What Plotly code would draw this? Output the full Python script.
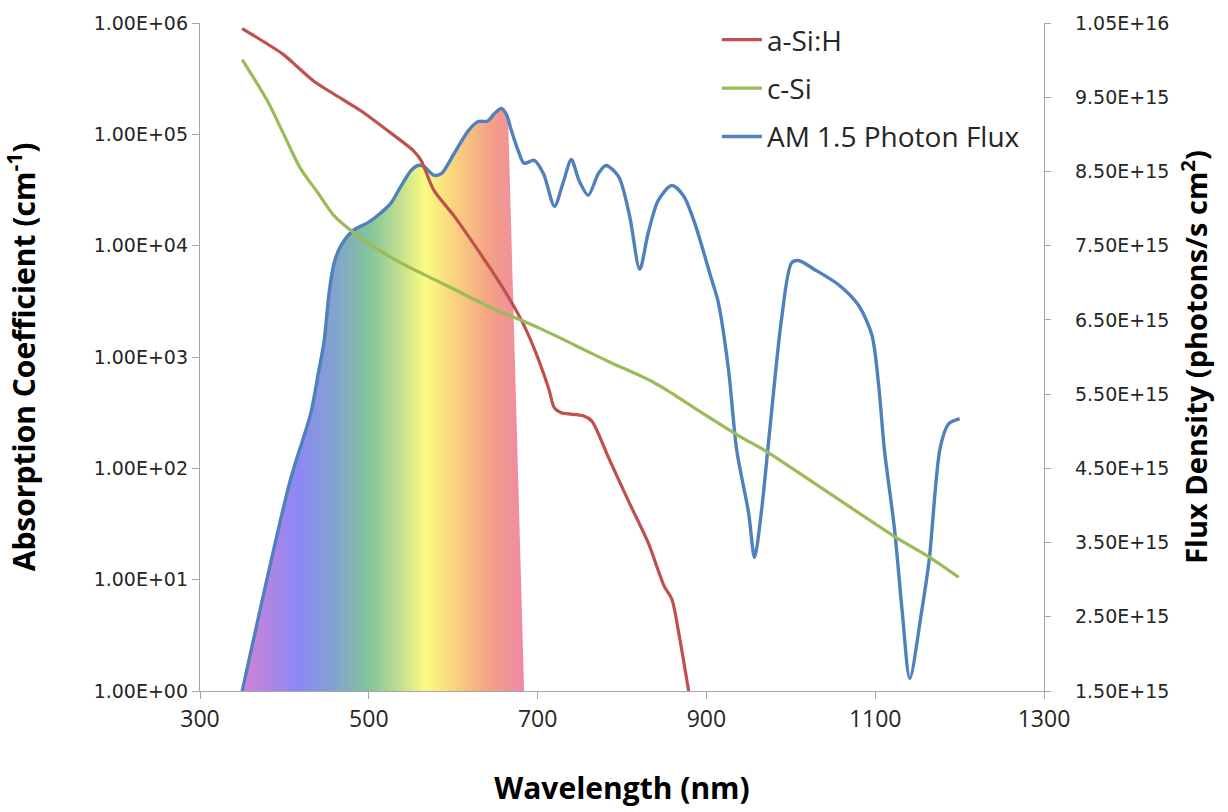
import plotly.graph_objects as go

# ---------------- data ----------------
# AM 1.5 photon flux (right axis, photons / s cm^2)
flux_wavelength = [350, 407, 431, 440, 447, 453, 459, 467, 482, 499, 514, 526, 538, 550, 558,
                   565, 577, 586, 601, 618, 629, 641, 648, 657, 663, 669, 677, 684, 696, 707,
                   720, 730, 740, 749, 760, 772, 781, 796, 809, 821, 831, 843, 859, 873, 886,
                   906, 914, 926, 936, 950, 957, 965, 975, 989, 1001, 1009, 1028, 1057, 1080,
                   1096, 1104, 1111, 1123, 1132, 1141, 1155, 1164, 1177, 1187, 1200]
flux_values = [1.50e15, 4.34e15, 5.23e15, 5.77e15, 6.21e15, 6.87e15, 7.27e15, 7.50e15, 7.71e15,
               7.81e15, 7.94e15, 8.07e15, 8.30e15, 8.51e15, 8.58e15, 8.57e15, 8.45e15, 8.47e15,
               8.74e15, 9.05e15, 9.17e15, 9.18e15, 9.27e15, 9.35e15, 9.27e15, 9.05e15, 8.78e15,
               8.61e15, 8.65e15, 8.47e15, 8.03e15, 8.34e15, 8.66e15, 8.38e15, 8.18e15, 8.47e15,
               8.58e15, 8.43e15, 7.90e15, 7.18e15, 7.67e15, 8.11e15, 8.31e15, 8.17e15, 7.81e15,
               7.05e15, 6.74e15, 5.85e15, 4.74e15, 3.90e15, 3.30e15, 3.90e15, 5.01e15, 6.51e15,
               7.27e15, 7.30e15, 7.18e15, 6.97e15, 6.70e15, 6.30e15, 5.63e15, 4.74e15, 3.67e15,
               2.57e15, 1.67e15, 2.57e15, 3.27e15, 4.78e15, 5.10e15, 5.17e15]

# a-Si:H absorption coefficient (left axis, cm^-1)
asi_wavelength = [350, 399, 416, 435, 459, 491, 523, 553, 562, 577, 601, 629, 657, 680, 696,
                  713, 720, 728, 754, 764, 784, 807, 831, 850, 859, 867, 879]
asi_values = [8.9e5, 5.2e5, 4.0e5, 3.0e5, 2.29e5, 1.62e5, 1.07e5, 7.1e4, 5.8e4, 3.15e4, 1.85e4,
              9.2e3, 4.4e3, 2.2e3, 1.19e3, 525, 348, 315, 296, 267, 125, 52, 21.5, 8.75,
              6.7, 3.4, 1.0]

# c-Si absorption coefficient (left axis, cm^-1)
csi_wavelength = [350, 380, 399, 419, 440, 459, 482, 511, 538, 553, 601, 648, 680, 704, 743,
                  784, 835, 855, 886, 942, 969, 1123, 1165, 1199]
csi_values = [4.69e5, 1.99e5, 1.01e5, 4.94e4, 2.96e4, 1.85e4, 1.31e4, 9.2e3, 7.0e3, 6.12e3,
              4.06e3, 2.7e3, 2.15e3, 1.79e3, 1.29e3, 912, 606, 494, 348, 189, 145, 24.4,
              15.8, 10.5]

# visible-spectrum shaded band (cut-off of the rainbow fill)
band_peak_nm, band_peak_flux = 665, 9.23e15
band_end_nm = 684

# tick labels
x_ticks = [300, 500, 700, 900, 1100, 1300]
left_tickvals = [1, 10, 100, 1000, 1e4, 1e5, 1e6]
left_ticktext = ["1.00E+00", "1.00E+01", "1.00E+02", "1.00E+03", "1.00E+04", "1.00E+05", "1.00E+06"]
right_tickvals = [1.5e15, 2.5e15, 3.5e15, 4.5e15, 5.5e15, 6.5e15, 7.5e15, 8.5e15, 9.5e15, 1.05e16]
right_ticktext = ["1.50E+15", "2.50E+15", "3.50E+15", "4.50E+15", "5.50E+15",
                  "6.50E+15", "7.50E+15", "8.50E+15", "9.50E+15", "1.05E+16"]

# ---------------- styling ----------------
RED = "#c0504d"
GREEN = "#9bbb59"
BLUE = "#4f81bd"
AXIS = "#a6a6a6"
TXT = "#262626"
TITLE_FONT = "Open Sans, sans-serif"

# build fill polygon from flux data
fx = [w for w in flux_wavelength if w <= band_peak_nm - 5]
fy = flux_values[:len(fx)]
fill_x = fx + [band_peak_nm, band_end_nm, flux_wavelength[0]]
fill_y = fy + [band_peak_flux, flux_values[0], flux_values[0]]

fig = go.Figure()

# flux-axis subplot (drawn underneath)
fig.add_trace(go.Scatter(
    x=fill_x, y=fill_y, mode="lines", fill="toself",
    line=dict(width=0, color="rgba(0,0,0,0)"),
    fillgradient=dict(
        type="horizontal",
        colorscale=[[0.0, "#d382d6"], [0.2, "#8a88f6"], [0.33, "#82a4cc"],
                    [0.45, "#82c49c"], [0.56, "#c2df8e"], [0.65, "#fbfb80"],
                    [0.75, "#f9d47e"], [0.88, "#f3a086"], [1.0, "#f088a6"]],
    ),
    showlegend=False, hoverinfo="skip", yaxis="y", legendgroup="z",
))

# absorption-axis overlay (drawn on top)
fig.add_trace(go.Scatter(
    x=asi_wavelength, y=asi_values, mode="lines", name="a-Si:H",
    line=dict(color=RED, width=3.2, shape="spline", smoothing=0.8),
    yaxis="y2", legendgroup="a",
))

fig.add_trace(go.Scatter(
    x=csi_wavelength, y=csi_values, mode="lines", name="c-Si",
    line=dict(color=GREEN, width=3.2, shape="spline", smoothing=0.8),
    yaxis="y2", legendgroup="b",
))

fig.add_trace(go.Scatter(
    x=flux_wavelength, y=flux_values, mode="lines", name="AM 1.5 Photon Flux",
    line=dict(color=BLUE, width=3.4, shape="spline", smoothing=0.8),
    yaxis="y", legendgroup="c",
))

fig.update_layout(
    width=1228, height=812,
    margin=dict(l=200, r=184, t=18, b=119),
    plot_bgcolor="white", paper_bgcolor="white",
    font=dict(family="Open Sans, sans-serif", color=TXT),
    xaxis=dict(
        range=[300, 1300], tickvals=x_ticks, ticks="outside", ticklen=7, tickcolor=AXIS,
        showline=True, linecolor=AXIS, linewidth=1.3, showgrid=False, zeroline=False,
        tickfont=dict(family="Open Sans, sans-serif", size=23, color=TXT),
        title=dict(text="Wavelength (nm)", standoff=45,
                   font=dict(family=TITLE_FONT, size=30, color="#000", weight="bold")),
    ),
    yaxis=dict(
        side="right", range=[1.5e15, 1.05e16], tickvals=right_tickvals, ticktext=right_ticktext,
        ticks="outside", ticklen=6, tickcolor=AXIS, showline=True, linecolor=AXIS,
        linewidth=1.3, showgrid=False, zeroline=False, ticklabelstandoff=20,
        tickfont=dict(family="DejaVu Sans, sans-serif", size=19, color=TXT),
        title=dict(text="Flux Density (photons/s cm<sup>2</sup>)", standoff=18,
                   font=dict(family=TITLE_FONT, size=29, color="#000", weight="bold")),
    ),
    yaxis2=dict(
        type="log", side="left", overlaying="y", range=[0, 6],
        tickvals=left_tickvals, ticktext=left_ticktext,
        ticks="outside", ticklen=7, tickcolor=AXIS, showline=True, linecolor=AXIS,
        linewidth=1.3, showgrid=False, zeroline=False,
        tickfont=dict(family="DejaVu Sans, sans-serif", size=19, color=TXT),
        title=dict(text="Absorption Coefficient (cm<sup>-1</sup>)", standoff=55,
                   font=dict(family=TITLE_FONT, size=30, color="#000", weight="bold")),
    ),
    legend=dict(
        x=0.6125, y=1.012, xanchor="left", yanchor="top", itemwidth=40,
        bgcolor="rgba(0,0,0,0)", font=dict(family="Open Sans, sans-serif", size=28, color=TXT),
        traceorder="grouped", tracegroupgap=9,
    ),
)

fig.write_html("out.html", config={"displayModeBar": False},
               post_script="document.body.style.margin='0';")
